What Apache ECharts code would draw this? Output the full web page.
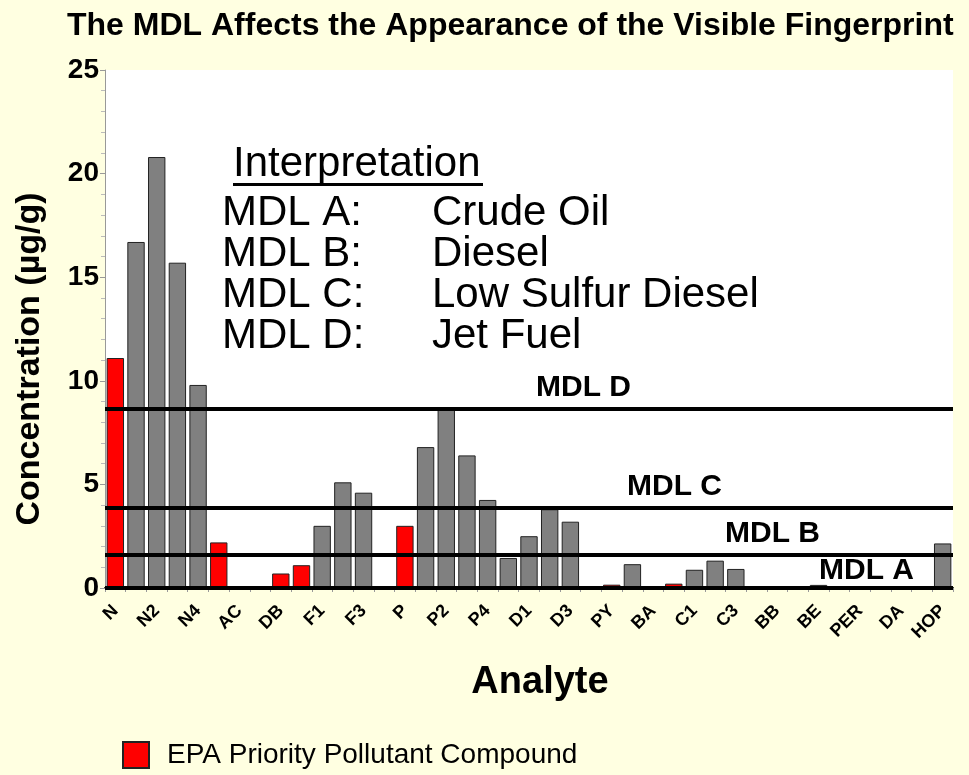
<!DOCTYPE html>
<html>
<head>
<meta charset="utf-8">
<script src="https://cdn.jsdelivr.net/npm/echarts@6/dist/echarts.min.js"></script>
<style>
  html, body { margin: 0; padding: 0; background: #ffffe1; }
  #chart { width: 969px; height: 775px; }
</style>
</head>
<body>
<div id="chart"></div>
<script>
// analytes, every other one gets a label on the axis
const categories = ['N', 'N1', 'N2', 'N3', 'N4', 'AY', 'AC', 'AE', 'DB', 'F',
  'F1', 'F2', 'F3', 'A', 'P', 'P1', 'P2', 'P3', 'P4', 'D',
  'D1', 'D2', 'D3', 'FL', 'PY', 'FP1', 'BA', 'C', 'C1', 'C2',
  'C3', 'C4', 'BB', 'BK', 'BE', 'BAP', 'PER', 'IP', 'DA', 'BP', 'HOP'];

const concentrations = [11.1, 16.7, 20.8, 15.7, 9.8, 2.2, 0, 0, 0.7, 1.1,
  3.0, 5.1, 4.6, 0, 3.0, 6.8, 8.6, 6.4, 4.25, 1.45,
  2.5, 3.8, 3.2, 0, 0.16, 1.15, 0, 0.21, 0.88, 1.32,
  0.92, 0, 0.06, 0, 0.15, 0, 0, 0, 0, 0, 2.15];

// 1 = EPA priority pollutant (red bar)
const priority = [1, 0, 0, 0, 0, 1, 0, 0, 1, 1,
  0, 0, 0, 0, 1, 0, 0, 0, 0, 0,
  0, 0, 0, 0, 1, 0, 0, 1, 0, 0,
  0, 0, 1, 0, 0, 0, 0, 0, 0, 0, 0];

const mdlNames = ['MDL D', 'MDL C', 'MDL B', 'MDL A'];
const mdlValues = [8.65, 3.85, 1.6, 0];
const mdlLabelOffsets = [431, 522, 620, 714];

const interpretation = [
  ['MDL A:', 'Crude Oil'],
  ['MDL B:', 'Diesel'],
  ['MDL C:', 'Low Sulfur Diesel'],
  ['MDL D:', 'Jet Fuel']
];

const FONT = "'Liberation Sans', Arial, sans-serif";

const chart = echarts.init(document.getElementById('chart'));

const redData = concentrations.map((v, i) => (priority[i] ? v : '-'));
const grayData = concentrations.map((v, i) => (priority[i] ? '-' : v));

const graphicTexts = [{
  type: 'text', left: 233, top: 143,
  style: { text: 'Interpretation', font: '42px ' + FONT, fill: '#000' }
}, {
  type: 'rect', left: 233, top: 183,
  shape: { width: 250, height: 3 },
  style: { fill: '#000' }
}];
interpretation.forEach((row, i) => {
  graphicTexts.push({
    type: 'text', left: 222, top: 192 + i * 41,
    style: { text: row[0], font: '42px ' + FONT, fill: '#000' }
  });
  graphicTexts.push({
    type: 'text', left: 432, top: 192 + i * 41,
    style: { text: row[1], font: '42px ' + FONT, fill: '#000' }
  });
});

const option = {
  backgroundColor: '#ffffe1',
  animation: false,
  textStyle: { fontFamily: FONT },
  title: {
    text: 'The MDL Affects the Appearance of the Visible Fingerprint',
    left: 62,
    top: 5,
    textStyle: { fontSize: 32, fontWeight: 'bold', color: '#000', fontFamily: FONT }
  },
  legend: {
    data: ['EPA Priority Pollutant Compound'],
    left: 117,
    top: 736,
    icon: 'rect',
    itemWidth: 26,
    itemHeight: 26,
    textStyle: {
      fontSize: 28,
      color: '#000',
      fontFamily: FONT,
      padding: [0, 0, 0, 13]
    }
  },
  grid: {
    left: 105,
    right: 16,
    top: 70,
    bottom: 187,
    show: true,
    backgroundColor: '#fff',
    borderWidth: 0
  },
  graphic: { elements: graphicTexts },
  xAxis: {
    type: 'category',
    data: categories,
    name: 'Analyte',
    nameLocation: 'middle',
    nameGap: 76,
    nameTextStyle: { fontSize: 38, fontWeight: 'bold', color: '#000', padding: [0, 0, 0, 22] },
    axisLine: { lineStyle: { color: '#000', width: 2 } },
    axisTick: { show: true, interval: 0, length: 4, lineStyle: { color: '#999' } },
    axisLabel: {
      interval: 1,
      rotate: 45,
      fontSize: 18,
      fontWeight: 'bold',
      color: '#000',
      margin: 20
    }
  },
  yAxis: {
    type: 'value',
    min: 0,
    max: 25,
    interval: 5,
    name: 'Concentration (µg/g)',
    nameLocation: 'middle',
    nameGap: 58,
    nameTextStyle: { fontSize: 34, fontWeight: 'bold', color: '#000', padding: [0, 60, 0, 0] },
    axisLine: { show: true, lineStyle: { color: '#999', width: 1 } },
    axisTick: { show: true, length: 5, lineStyle: { color: '#999' } },
    minorTick: { show: true, splitNumber: 5, length: 4, lineStyle: { color: '#bbb' } },
    splitLine: { show: false },
    axisLabel: { fontSize: 28, fontWeight: 'bold', color: '#000', margin: 6 }
  },
  series: [{
    name: 'EPA Priority Pollutant Compound',
    type: 'bar',
    stack: 'conc',
    data: redData,
    barWidth: '84%',
    itemStyle: { color: '#ff0000', borderColor: '#222', borderWidth: 1 }
  }, {
    name: 'Other',
    type: 'bar',
    stack: 'conc',
    data: grayData,
    barWidth: '84%',
    itemStyle: { color: '#808080', borderColor: '#222', borderWidth: 1 },
    markLine: {
      silent: true,
      symbol: 'none',
      lineStyle: { color: '#000', width: 4, type: 'solid' },
      data: mdlValues.map((v, i) => ({
        name: mdlNames[i],
        yAxis: v,
        label: {
          show: true,
          formatter: '{b}',
          position: 'insideStartTop',
          distance: [mdlLabelOffsets[i], i === 3 ? 2 : 6],
          fontSize: 30,
          fontWeight: 'bold',
          color: '#000',
          fontFamily: FONT
        }
      }))
    }
  }]
};

chart.setOption(option);
</script>
</body>
</html>
